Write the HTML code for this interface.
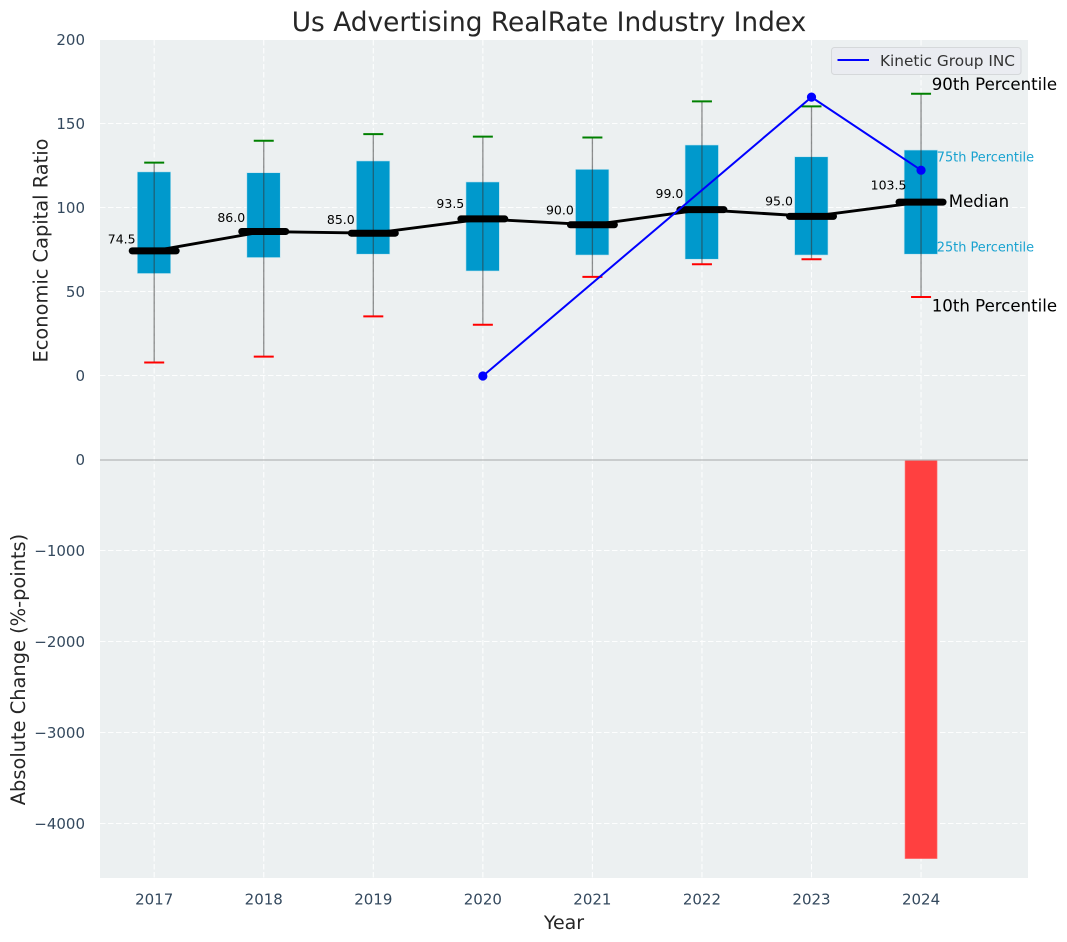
<!DOCTYPE html>
<html>
<head>
<meta charset="utf-8">
<title>Us Advertising RealRate Industry Index</title>
<style>
html,body{margin:0;padding:0;background:#fff;}
svg{display:block;font-family:"DejaVu Sans","Liberation Sans",sans-serif;}
</style>
</head>
<body>
<svg id="chart" xmlns="http://www.w3.org/2000/svg" width="1067" height="942" viewBox="0 0 1067 942"></svg>
<script>
const years = [2017, 2018, 2019, 2020, 2021, 2022, 2023, 2024];
const p90 = [127, 140, 144, 142.5, 142, 163.5, 160.5, 168];
const p75 = [121.5, 121, 128, 115.5, 123, 137.5, 130.5, 134.5];
const medians = [74.5, 86, 85, 93.5, 90, 99, 95, 103.5];
const p25 = [61, 70.5, 72.5, 62.5, 72, 69.5, 72, 72.5];
const p10 = [8, 11.5, 35.5, 30.5, 59, 66.5, 69.5, 47];
const kineticYears = [2020, 2023, 2024];
const kineticValues = [0, 166, 122.5];
const changeYears = [2024];
const changeValues = [-4380];
const topTicks = [0, 50, 100, 150, 200];
const bottomTicks = [0, -1000, -2000, -3000, -4000];

const svg = document.getElementById('chart');
const NS = 'http://www.w3.org/2000/svg';
const plotLeft = 100, plotRight = 1028, topStart = 40, split = 460, bottomEnd = 878;
const x = v => 154.2 + (v - 2017) * 109.55;
const yTop = v => 376 - v * 1.68;
const yBottom = v => 460 - v * 0.091;

function mk(tag, attrs, text) {
  const el = document.createElementNS(NS, tag);
  for (const k in attrs) el.setAttribute(k, attrs[k]);
  if (text !== undefined) el.textContent = text;
  svg.appendChild(el);
  return el;
}
function fmtTick(v) {
  return v < 0 ? '\u2212' + Math.abs(v) : String(v);
}

// Axes backgrounds
const bgTop = mk('rect', {x: plotLeft, y: topStart, width: plotRight - plotLeft, height: split - topStart, fill: '#ecf0f1'});


const bgBottom = mk('rect', {x: plotLeft, y: split, width: plotRight - plotLeft, height: bottomEnd - split, fill: '#ecf0f1'});



// Grid lines
const gridStyle = {stroke: '#ffffff', 'stroke-width': 1.1, 'stroke-dasharray': '5.5 2.5', 'stroke-opacity': 0.9};
years.forEach(yr => {
  const g = mk('line', Object.assign({x1: x(yr), x2: x(yr), y1: topStart, y2: bottomEnd}, gridStyle));
  
  
});
topTicks.forEach(t => {
  const g = mk('line', Object.assign({x1: plotLeft, x2: plotRight, y1: yTop(t) - 0.5, y2: yTop(t) - 0.5}, gridStyle));
  
  
});
bottomTicks.forEach(t => {
  if (t === 0) return;
  const g = mk('line', Object.assign({x1: plotLeft, x2: plotRight, y1: Math.round(yBottom(t)) - 0.5, y2: Math.round(yBottom(t)) - 0.5}, gridStyle));
  
  
});

// Absolute change bars
changeValues.forEach((v, i) => {
  const b = mk('rect', {x: x(changeYears[i]) - 16, y: yBottom(0), width: 32, height: yBottom(v) - yBottom(0), fill: '#ff4040', stroke: '#ff7070', 'stroke-width': 0.6});
  
  
});

// Zero separator line
const zero = mk('line', {x1: plotLeft, x2: plotRight, y1: split, y2: split, stroke: '#b4b7b8', 'stroke-width': 1.3});



// Boxes
years.forEach((yr, i) => {
  const b = mk('rect', {x: x(yr) - 16.9, y: yTop(p75[i]), width: 33.4, height: yTop(p25[i]) - yTop(p75[i]), fill: '#0099cc', stroke: '#bfe3ee', 'stroke-width': 0.6});
  
  
});

// Whiskers
years.forEach((yr, i) => {
  const w = mk('line', {x1: x(yr), x2: x(yr), y1: yTop(p90[i]), y2: yTop(p10[i]), stroke: '#333333', 'stroke-opacity': 0.55, 'stroke-width': 1.3});
  
  
  const hi = mk('line', {x1: x(yr) - 10, x2: x(yr) + 10, y1: yTop(p90[i]), y2: yTop(p90[i]), stroke: '#008000', 'stroke-width': 2});
  
  
  const lo = mk('line', {x1: x(yr) - 10, x2: x(yr) + 10, y1: yTop(p10[i]), y2: yTop(p10[i]), stroke: '#ff0000', 'stroke-width': 2});
  
  
});

// Median line
const medianLine = mk('polyline', {points: years.map((yr, i) => x(yr) + ',' + yTop(medians[i])).join(' '), fill: 'none', stroke: '#000000', 'stroke-width': 2.9});



// Median bars and value labels
years.forEach((yr, i) => {
  const m = mk('line', {x1: x(yr) - 22, x2: x(yr) + 22, y1: yTop(medians[i]), y2: yTop(medians[i]), stroke: '#000000', 'stroke-width': 7, 'stroke-linecap': 'round'});
  
  
  const t = mk('text', {x: x(yr) - 32.5, y: yTop(medians[i] * 1.1) + 5, 'text-anchor': 'middle', 'font-size': 12.5, fill: '#000000'}, medians[i].toFixed(1));
  
  
});

// Kinetic Group series
const kinetic = mk('polyline', {points: kineticYears.map((yr, i) => x(yr) + ',' + yTop(kineticValues[i])).join(' '), fill: 'none', stroke: '#0000ff', 'stroke-width': 2});


kineticYears.forEach((yr, i) => {
  const c = mk('circle', {cx: x(yr), cy: yTop(kineticValues[i]), r: 4.6, fill: '#0000ff'});
  
  
});

// Percentile annotations (read from the final year's values)
const lastX = x(years[years.length - 1]);
const lastIndex = years.length - 1;
const a90 = mk('text', {x: lastX + 10.7, y: yTop(p90[lastIndex]) - 3.8, 'font-size': 16.6, fill: '#000000'}, '90th Percentile');


const a75 = mk('text', {x: lastX + 15.7, y: yTop(p75[lastIndex]) + 11.5, 'font-size': 12.9, fill: '#0099cc', 'fill-opacity': 0.9}, '75th Percentile');


const aMed = mk('text', {x: lastX + 27.7, y: yTop(medians[lastIndex]) + 5, 'font-size': 16.6, fill: '#000000'}, 'Median');


const a25 = mk('text', {x: lastX + 15.7, y: yTop(p25[lastIndex]) - 2.5, 'font-size': 12.9, fill: '#0099cc', 'fill-opacity': 0.9}, '25th Percentile');


const a10 = mk('text', {x: lastX + 10.7, y: yTop(p10[lastIndex]) + 14.5, 'font-size': 16.6, fill: '#000000'}, '10th Percentile');



// Tick labels
const tickColor = '#34495e';
topTicks.forEach(t => {
  const l = mk('text', {x: 85, y: yTop(t) + 5, 'text-anchor': 'end', 'font-size': 15, fill: tickColor}, fmtTick(t));
  
  
});
bottomTicks.forEach(t => {
  const l = mk('text', {x: 85, y: yBottom(t) + 5, 'text-anchor': 'end', 'font-size': 15, fill: tickColor}, fmtTick(t));
  
  
});
years.forEach(yr => {
  const l = mk('text', {x: x(yr), y: 904.5, 'text-anchor': 'middle', 'font-size': 15, fill: tickColor}, String(yr));
  
  
});

// Titles
const title = mk('text', {x: 549, y: 31, 'text-anchor': 'middle', 'font-size': 26.4, fill: '#262626'}, 'Us Advertising RealRate Industry Index');


const xTitle = mk('text', {x: 564, y: 929, 'text-anchor': 'middle', 'font-size': 19, fill: '#262626'}, 'Year');


const yTitleTop = mk('text', {transform: 'translate(47.5,250.5) rotate(-90)', 'text-anchor': 'middle', 'font-size': 19.4, fill: '#262626'}, 'Economic Capital Ratio');


const yTitleBottom = mk('text', {transform: 'translate(25,669.5) rotate(-90)', 'text-anchor': 'middle', 'font-size': 19.4, fill: '#262626'}, 'Absolute Change (%-points)');



// Legend
const legendBox = mk('rect', {x: 831.5, y: 47.5, width: 189.5, height: 27, rx: 3, fill: '#eaecf1', stroke: '#d5d8da', 'stroke-width': 1});


const legendLine = mk('line', {x1: 837.5, x2: 869, y1: 60, y2: 60, stroke: '#0000ff', 'stroke-width': 2});


const legendText = mk('text', {x: 880, y: 66, 'font-size': 15.3, fill: '#333333'}, 'Kinetic Group INC');


</script>
</body>
</html>
